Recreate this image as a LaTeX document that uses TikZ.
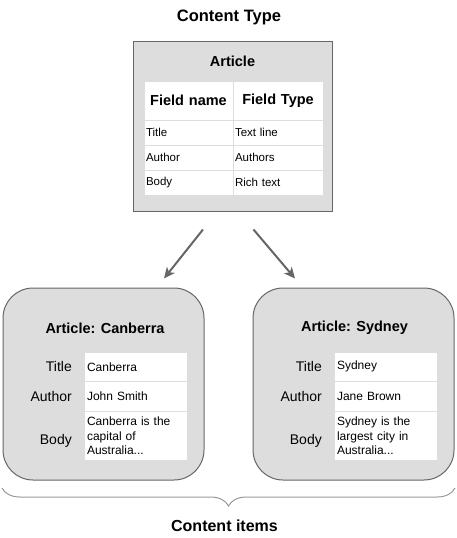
\documentclass[tikz,border=0pt]{standalone}
\usepackage{fontspec}
\setmainfont{Liberation Sans}
\usetikzlibrary{arrows.meta,decorations.pathreplacing}
\definecolor{boxfill}{HTML}{DDDDDD}
\definecolor{boxline}{HTML}{666666}
\definecolor{gridline}{HTML}{DDDDDD}
\definecolor{bracecol}{HTML}{999999}
\begin{document}
\begin{tikzpicture}[x=1pt, y=-1pt]
\tikzset{titre/.style={font=\fontsize{16}{18}\selectfont\bfseries},
  tete/.style={font=\fontsize{14.5}{17}\selectfont\bfseries},
  boite/.style={draw=boxline, fill=boxfill, line width=1pt},
  carte/.style={boite, rounded corners=30pt, minimum width=201pt, minimum height=192pt},
  cellule/.style={draw=gridline, fill=white, line width=1pt, inner xsep=2pt, inner ysep=0pt, align=left, font=\fontsize{11.5}{14}\selectfont},
  valeur/.style={cellule, inner xsep=3pt, minimum width=103pt, text width=97pt, font=\fontsize{12}{14.5}\selectfont},
  champ/.style={anchor=east, inner sep=0pt, font=\fontsize{14}{16}\selectfont},
  fleche/.style={draw=boxline, line width=2pt, -{Stealth[length=11pt, width=10pt, inset=3pt]}}}
\useasboundingbox (0,0) rectangle (456,538);
% content type
\node[titre, font=\fontsize{16.5}{18}\selectfont\bfseries] (CT) at (229,17) {Content Type};
\node[boite, minimum width=199pt, minimum height=170pt] (A) at (232.5,126) {};
\node[tete] (At) at (232.5,61) {Article};
\node[cellule, minimum width=89pt, minimum height=39pt, align=center, tete, text width=85pt] (H1) at (188.5,100.5) {Field name};
\node[cellule, minimum width=90pt, minimum height=39pt, align=center, tete, text width=86pt] (H2) at (278,100.5) {Field Type};
\node[cellule, minimum width=89pt, minimum height=25pt, text width=85pt] (N1) at (188.5,132.5) {Title};
\node[cellule, minimum width=90pt, minimum height=25pt, text width=86pt] (T1) at (278,132.5) {Text line};
\node[cellule, minimum width=89pt, minimum height=25pt, text width=85pt] (N2) at (188.5,157.5) {Author};
\node[cellule, minimum width=90pt, minimum height=25pt, text width=86pt] (T2) at (278,157.5) {Authors};
\node[cellule, minimum width=89pt, minimum height=25pt, text width=85pt] (N3) at (188.5,182.5) {Body};
\node[cellule, minimum width=90pt, minimum height=25pt, text width=86pt] (T3) at (278,182.5) {Rich text};
% arrows
\coordinate (F1a) at (203,229.5);
\coordinate (F1b) at (164,278.5);
\coordinate (F2a) at (253.5,229.5);
\coordinate (F2b) at (295,278.5);
\draw[fleche] (F1a) -- (F1b);
\draw[fleche] (F2a) -- (F2b);
% Canberra
\node[carte] (C) at (103.5,384) {};
\node[tete] (Ct) at (105,328) {Article: Canberra};
\node[champ] (C1) at (72,366.5) {Title};
\node[champ] (C2) at (72,396.5) {Author};
\node[champ] (C3) at (72,441) {Body};
\node[valeur, minimum height=29.5pt] (CV1) at (135.5,366.75) {Canberra};
\node[valeur, minimum height=29.5pt] (CV2) at (135.5,396.25) {John Smith};
\node[valeur, minimum height=49.5pt] (CV3) at (135.5,435.75) {Canberra is the\\capital of\\Australia...};
% Sydney
\node[carte] (S) at (353.5,384) {};
\node[tete] (St) at (354.5,328) {Article: Sydney};
\node[champ] (S1) at (322,366.5) {Title};
\node[champ] (S2) at (322,396.5) {Author};
\node[champ] (S3) at (322,441) {Body};
\node[valeur, minimum height=29.5pt] (SV1) at (385.5,366.75) {Sydney};
\node[valeur, minimum height=29.5pt] (SV2) at (385.5,396.25) {Jane Brown};
\node[valeur, minimum height=49.5pt] (SV3) at (385.5,435.75) {Sydney is the\\largest city in\\Australia...};
% content items
\coordinate (B1) at (2,488);
\coordinate (B2) at (455,488);
\draw[bracecol, line width=1pt, decorate, decoration={brace, amplitude=18pt, mirror}] (B1) -- (B2);
\node[titre] (CI) at (224.5,526) {Content items};
\end{tikzpicture}
\end{document}
